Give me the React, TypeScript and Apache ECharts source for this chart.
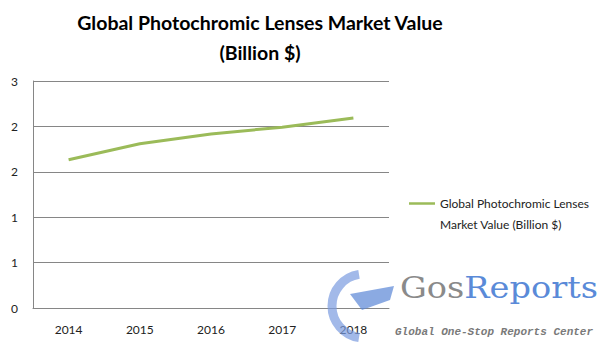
import React, { useEffect, useRef } from "react";
import * as echarts from "echarts";

const categories = ["2014", "2015", "2016", "2017", "2018"];
const seriesName = "Global Photochromic Lenses\nMarket Value (Billion $)";
const values = [1.96, 2.17, 2.3, 2.39, 2.51];
const yTickLabels = ["0", "1", "1", "2", "2", "3"];
const titleText = "Global Photochromic Lenses Market Value\n(Billion $)";

export default function App() {
  const ref = useRef<HTMLDivElement>(null);
  useEffect(() => {
    if (!ref.current) return;
    const chart = echarts.init(ref.current, undefined, { renderer: "svg" });
    chart.setOption({
      animation: false,
      backgroundColor: "#ffffff",
      title: {
        text: titleText,
        left: 260,
        top: 7,
        padding: 0,
        textAlign: "center",
        textStyle: {
          fontFamily: "Lato",
          fontWeight: "bold",
          fontSize: 19.5,
          lineHeight: 30,
          color: "#000",
        },
      },
      grid: { left: 33, right: 214, top: 81, bottom: 43 },
      xAxis: {
        type: "category",
        data: categories,
        boundaryGap: true,
        axisLine: { show: true, lineStyle: { color: "#868686", width: 1 } },
        axisTick: { show: false },
        axisLabel: { color: "#222", fontFamily: "Lato", fontSize: 12, margin: 15 },
      },
      yAxis: {
        type: "value",
        min: 0,
        max: 3,
        interval: 0.6,
        axisLine: { show: true, lineStyle: { color: "#868686", width: 1 } },
        axisTick: { show: false },
        splitLine: { lineStyle: { color: "#868686", width: 1 } },
        axisLabel: {
          color: "#222",
          fontFamily: "Lato",
          fontSize: 12,
          margin: 15,
          formatter: (v: number) => yTickLabels[Math.round(v / 0.6)] ?? "",
        },
      },
      legend: {
        orient: "vertical",
        left: 409,
        top: 172,
        padding: 0,
        icon: "rect",
        itemWidth: 26,
        itemHeight: 2.5,
        itemGap: 4,
        data: [seriesName],
        formatter: (name: string) => "\n" + name,
        textStyle: {
          fontFamily: "Lato",
          fontSize: 12,
          color: "#222",
          lineHeight: 21,
        },
      },
      graphic: [
        {
          type: "arc",
          shape: { cx: 364, cy: 306, r: 32, startAngle: Math.PI * 0.55, endAngle: Math.PI * 1.45 },
          style: { stroke: "#7b9be0", lineWidth: 9, fill: "none", opacity: 0.7 },
          z: 10,
        },
        {
          type: "polygon",
          shape: { points: [[350, 294], [394, 286], [390, 300], [362, 310]] },
          style: { fill: "#5a86d6", opacity: 0.7 },
          z: 10,
        },
        {
          type: "text",
          x: 400,
          y: 303,
          scaleX: 1.12,
          style: {
            text: "{a|Gos}{b|Reports}",
            rich: {
              a: { fontFamily: "DejaVu Serif", fontSize: 30, fill: "#8a8a8a" },
              b: { fontFamily: "DejaVu Serif", fontSize: 30, fill: "#5a8ad8" },
            },
            textVerticalAlign: "bottom",
          },
          z: 10,
        },
        {
          type: "text",
          x: 395,
          y: 332,
          style: {
            text: "Global One-Stop Reports Center",
            fontFamily: "Liberation Mono",
            fontStyle: "italic",
            fontWeight: "bold",
            fontSize: 11,
            fill: "#7a7a7a",
            textVerticalAlign: "middle",
          },
          z: 10,
        },
      ],
      series: [
        {
          name: seriesName,
          type: "line",
          data: values,
          symbol: "none",
          lineStyle: { color: "#9bbb59", width: 3 },
          itemStyle: { color: "#9bbb59" },
        },
      ],
    });
    return () => chart.dispose();
  }, []);
  return <div ref={ref} style={{ width: 603, height: 351, position: "absolute", left: 0, top: 0 }} />;
}
